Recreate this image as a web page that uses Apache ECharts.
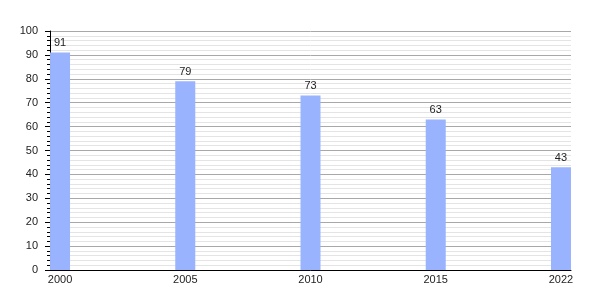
<!DOCTYPE html>
<html><head><meta charset="utf-8">
<script src="https://cdn.jsdelivr.net/npm/echarts@6/dist/echarts.min.js"></script>
<style>html,body{margin:0;padding:0;background:#fff}#c{width:600px;height:300px}</style>
</head><body><div id="c"></div>
<script>
const years = ['2000','2005','2010','2015','2022'];
const values = [91, 79, 73, 63, 43];
const yTicks = [0,10,20,30,40,50,60,70,80,90,100];

const chart = echarts.init(document.getElementById('c'), null, {renderer:'canvas'});
const font = 'Liberation Sans, Arial, sans-serif';
chart.setOption({
  animation:false,
  grid:{left:50, right:29, top:31, bottom:30, containLabel:false},
  xAxis:{
    type:'value', min:-0.08, max:years.length-1+0.08,
    axisLine:{show:true, onZero:false, lineStyle:{color:'#000', width:1}},
    axisTick:{show:false},
    splitLine:{show:false},
    axisLabel:{customValues:years.map((_,i)=>i), formatter:v=>years[Math.round(v)], color:'#222', fontFamily:font, fontSize:11, margin:4}
  },
  yAxis:{
    type:'value', min:yTicks[0], max:yTicks[yTicks.length-1], interval:10,
    axisLine:{show:true, onZero:false, lineStyle:{color:'#000', width:1}},
    axisTick:{show:true, length:5, lineStyle:{color:'#000'}},
    minorTick:{show:true, splitNumber:5, length:3, lineStyle:{color:'#000'}},
    splitLine:{show:true, lineStyle:{color:'#a8a8a8', width:1}},
    minorSplitLine:{show:true, lineStyle:{color:'#e4e4e4', width:1}},
    axisLabel:{color:'#222', fontFamily:font, fontSize:11, margin:12}
  },
  series:[{
    type:'bar', barWidth:20,
    data: values.map((v,i)=>[i,v]),
    itemStyle:{color:'#99b3ff'},
    label:{show:true, position:'top', color:'#222', fontFamily:font, fontSize:11, distance:4}
  }]
});
</script></body></html>
